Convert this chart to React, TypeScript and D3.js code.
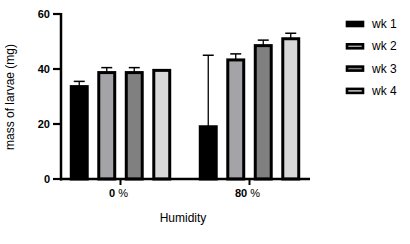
import React from "react";
import * as d3 from "d3";

const groups = ["0", "80"];
const series = ["wk 1", "wk 2", "wk 3", "wk 4"];
const colors = ["#000000", "#a3a3a8", "#808080", "#d8d8d8"];
const means0 = [33.6, 38.7, 38.7, 39.5];
const means80 = [19, 43.3, 48.5, 51];
const err0 = [1.9, 1.8, 1.8, 0];
const err80 = [26, 2.2, 2.0, 2.0];
const yTicks = [0, 20, 40, 60];

const means = [means0, means80];
const errs = [err0, err80];

export default function App() {
  const W = 410, H = 244;
  const y = d3.scaleLinear().domain([0, 60]).range([179, 14]);
  const gx = d3.scalePoint<string>().domain(groups).range([120.5, 249.5]);
  const ix = d3.scaleBand<string>().domain(series).range([-55, 55]).paddingInner(0.42).paddingOuter(0.21);
  const bw = ix.bandwidth();
  const font = "'Liberation Sans', Arial, sans-serif";
  return (
    <svg width={W} height={H} style={{ position: "absolute", left: 0, top: 0 }} fontFamily={font}>
      <rect width={W} height={H} fill="#fff" />
      {groups.map((g, gi) =>
        series.map((s, si) => {
          const cx = gx(g)! + ix(s)! + bw / 2;
          const v = means[gi][si];
          const e = errs[gi][si];
          return (
            <g key={g + s}>
              <line x1={cx} x2={cx} y1={y(v)} y2={y(v + e)} stroke="#000" strokeWidth={1.3} />
              <line x1={cx - 5.5} x2={cx + 5.5} y1={y(v + e)} y2={y(v + e)} stroke="#000" strokeWidth={1.5} />
              <rect x={cx - bw / 2} y={y(v)} width={bw} height={y(0) - y(v)} fill={colors[si]} stroke="#000" strokeWidth={3} />
            </g>
          );
        })
      )}
      {/* y axis */}
      <line x1={61} x2={61} y1={13} y2={180.5} stroke="#000" strokeWidth={2.5} />
      {yTicks.map((t) => (
        <g key={t}>
          <line x1={53} x2={61} y1={y(t)} y2={y(t)} stroke="#000" strokeWidth={2.2} />
          <text x={50} y={y(t) + 4} textAnchor="end" fontSize={11} fontWeight="bold">{t}</text>
        </g>
      ))}
      {/* x axis */}
      <line x1={60} x2={310} y1={179} y2={179} stroke="#000" strokeWidth={2.5} />
      {groups.map((g) => (
        <g key={g}>
          <line x1={gx(g)!} x2={gx(g)!} y1={179} y2={185} stroke="#000" strokeWidth={2} />
          <text x={gx(g)! - 2} y={197} textAnchor="middle" fontSize={11}>
            <tspan fontWeight="bold">{g}</tspan>
            <tspan> %</tspan>
          </text>
        </g>
      ))}
      <text x={183} y={222} textAnchor="middle" fontSize={12}>Humidity</text>
      <text transform="translate(14,97) rotate(-90)" textAnchor="middle" fontSize={12}>mass of larvae (mg)</text>
      {/* legend */}
      {series.map((s, si) => (
        <g key={s}>
          <rect x={347} y={22 + si * 22.3} width={16} height={4} fill={colors[si]} stroke="#000" strokeWidth={2.6} />
          <text x={372} y={28 + si * 22.3} fontSize={12}>{s}</text>
        </g>
      ))}
    </svg>
  );
}
